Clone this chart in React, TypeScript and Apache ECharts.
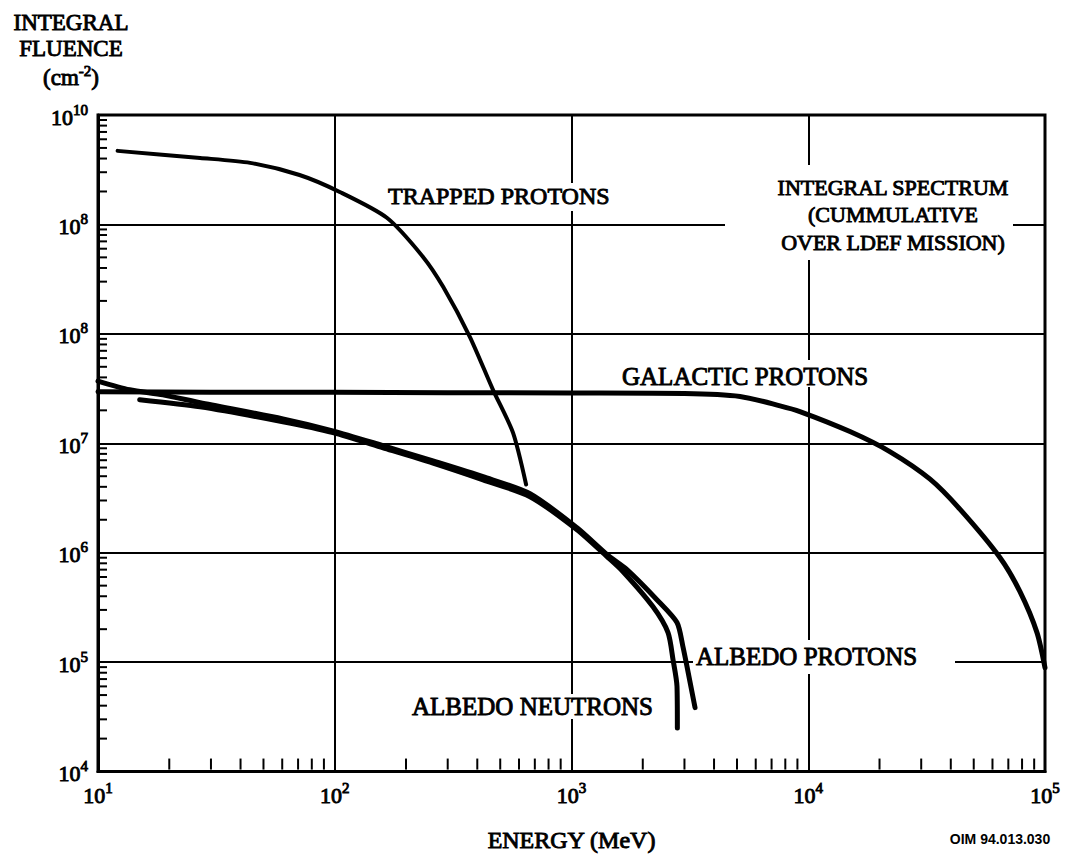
import React, { useEffect, useRef } from "react";
import * as echarts from "echarts";

const SERIF = "'Liberation Serif', 'Times New Roman', serif";

// Energy (MeV) and integral fluence (cm^-2)
const trappedEnergy = [12.1, 27, 43.9, 71, 105, 166, 236, 287, 372, 466, 566, 643];
const trappedFluence = [4.7e9, 4.05e9, 3.65e9, 2.83e9, 1.98e9, 1.15e9, 5.05e8, 2.69e8, 9.4e7, 3.08e7, 1.25e7, 4.2e6];

const galacticEnergy = [10, 30, 100, 300, 1000, 3000, 5150, 7600, 9220, 15000, 22100, 32700, 43700, 64600, 78400, 92500, 100000];
const galacticFluence = [2.95e7, 2.93e7, 2.92e7, 2.9e7, 2.88e7, 2.85e7, 2.68e7, 2.2e7, 1.95e7, 1.28e7, 8.4e6, 4.7e6, 2.5e6, 9.0e5, 4.4e5, 1.86e5, 8.9e4];

const albedoNeutronEnergy = [15, 27, 60.4, 98.3, 160, 260, 423, 668, 1055, 1413, 1652, 2210, 2557, 2685, 2790, 2800];
const albedoNeutronFluence = [2.5e7, 2.15e7, 1.57e7, 1.25e7, 9.1e6, 6.6e6, 4.64e6, 3.25e6, 1.62e6, 9.2e5, 6.7e5, 3.2e5, 1.86e5, 1.05e5, 6.0e4, 2.5e4];

const albedoProtonEnergy = [10, 13.6, 18.8, 27, 60.4, 98, 160, 260, 423, 668, 1055, 1413, 1715, 2295, 2790, 2955, 3075, 3325];
const albedoProtonFluence = [3.7e7, 3.08e7, 2.77e7, 2.35e7, 1.67e7, 1.3e7, 9.5e6, 6.9e6, 4.95e6, 3.46e6, 1.69e6, 9.6e5, 7.0e5, 3.72e5, 2.3e5, 1.39e5, 9.1e4, 3.84e4];

// Axis decades and their printed exponents
const xDecades = [1, 2, 3, 4, 5];
const xExponentLabels = ["1", "2", "3", "4", "5"];
const yDecades = [4, 5, 6, 7, 8, 9, 10];
const yExponentLabels = ["4", "5", "6", "7", "8", "8", "10"];
const minorMultipliers = [2, 3, 4, 5, 6, 7, 8, 9];

const pairs = (xs: number[], ys: number[]) => xs.map((x, i) => [x, ys[i]]);

const minorTicks = (decades: number[]) => {
  const out: number[] = [];
  for (let i = 0; i < decades.length - 1; i++) {
    const base = Math.pow(10, decades[i]);
    minorMultipliers.forEach((m) => out.push(m * base));
  }
  return out;
};

const INK = 0.9;
const ink = { textBorderColor: "#000", textBorderWidth: INK };

const rich = {
  b: { fontFamily: SERIF, fontSize: 22, color: "#000", lineHeight: 26, verticalAlign: "bottom", ...ink },
  s: { fontFamily: SERIF, fontSize: 15, color: "#000", lineHeight: 15, verticalAlign: "top", ...ink },
};

const expLabel = (decades: number[], labels: string[]) => (v: number) => {
  const e = Math.round(Math.log10(v));
  const idx = decades.indexOf(e);
  return `{b|10}{s|${idx >= 0 ? labels[idx] : e}}`;
};

const curve = (name: string, data: number[][], width: number) => ({
  name,
  type: "line",
  data,
  showSymbol: false,
  smooth: 0.25,
  clip: false,
  lineStyle: { color: "#000", width, cap: "round", join: "round" },
  z: 4,
});

const label = (text: string, x: number, y: number, size: number, align = "left") => ({
  type: "text",
  z: 6,
  style: {
    text,
    x,
    y,
    fill: "#000",
    fontFamily: SERIF,
    fontSize: size,
    textAlign: align,
    textVerticalAlign: "middle",
    stroke: "#000",
    lineWidth: INK,
  },
});

const blank = (x: number, y: number, width: number, height: number) => ({
  type: "rect",
  z: 5,
  shape: { x, y, width, height },
  style: { fill: "#fff" },
  silent: true,
});

export default function App() {
  const ref = useRef<HTMLDivElement>(null);

  useEffect(() => {
    document.body.style.margin = "0";
    const chart = echarts.init(ref.current!, undefined, { renderer: "svg" });

    chart.setOption({
      animation: false,
      backgroundColor: "#fff",
      textStyle: { fontFamily: SERIF },
      grid: {
        left: 98,
        top: 115,
        width: 947,
        height: 657,
        show: true,
        borderColor: "#000",
        borderWidth: 3,
        backgroundColor: "transparent",
      },
      xAxis: {
        type: "log",
        logBase: 10,
        min: 10,
        max: 1e5,
        splitNumber: 4,
        axisLine: { show: true, lineStyle: { color: "#000", width: 3 } },
        axisTick: { show: false },
        splitLine: { show: true, lineStyle: { color: "#000", width: 2 } },
        axisLabel: { margin: 9, fontFamily: SERIF, formatter: expLabel(xDecades, xExponentLabels), rich },
        name: "ENERGY (MeV)",
        nameLocation: "middle",
        nameGap: 56,
        nameTextStyle: { fontFamily: SERIF, fontSize: 24, color: "#000", ...ink },
      },
      yAxis: {
        type: "log",
        logBase: 10,
        min: 1e4,
        max: 1e10,
        splitNumber: 6,
        axisLine: { show: true, lineStyle: { color: "#000", width: 3 } },
        axisTick: { show: false },
        splitLine: { show: true, lineStyle: { color: "#000", width: 2 } },
        axisLabel: { margin: 10, fontFamily: SERIF, formatter: expLabel(yDecades, yExponentLabels), rich },
      },
      series: [
        curve("TRAPPED PROTONS", pairs(trappedEnergy, trappedFluence), 4),
        curve("GALACTIC PROTONS", pairs(galacticEnergy, galacticFluence), 5),
        curve("ALBEDO NEUTRONS", pairs(albedoNeutronEnergy, albedoNeutronFluence), 5),
        curve("ALBEDO PROTONS", pairs(albedoProtonEnergy, albedoProtonFluence), 5),
        {
          type: "custom",
          silent: true,
          clip: false,
          z: 3,
          data: minorTicks(xDecades).map((v) => [v, 1e4]),
          renderItem: (_p: any, api: any) => {
            const pt = api.coord([api.value(0), api.value(1)]);
            return {
              type: "line",
              shape: { x1: pt[0], y1: pt[1] - 2, x2: pt[0], y2: pt[1] - 13 },
              style: { stroke: "#000", lineWidth: 2 },
            };
          },
        },
        {
          type: "custom",
          silent: true,
          clip: false,
          z: 3,
          data: minorTicks(yDecades).map((v) => [10, v]),
          renderItem: (_p: any, api: any) => {
            const pt = api.coord([api.value(0), api.value(1)]);
            return {
              type: "line",
              shape: { x1: pt[0], y1: pt[1], x2: pt[0] + 9, y2: pt[1] },
              style: { stroke: "#000", lineWidth: 2 },
            };
          },
        },
      ],
      graphic: [
        blank(390, 183, 230, 28),
        blank(725, 165, 288, 95),
        blank(618, 360, 254, 27),
        blank(693, 640, 262, 34),
        blank(409, 694, 248, 25),
        label("TRAPPED PROTONS", 388, 196, 24),
        label("INTEGRAL SPECTRUM", 893, 187, 22, "center"),
        label("(CUMMULATIVE", 893, 214, 22, "center"),
        label("OVER LDEF MISSION)", 893, 242, 22, "center"),
        label("GALACTIC PROTONS", 622, 376, 25),
        label("ALBEDO PROTONS", 696, 656, 25),
        label("ALBEDO NEUTRONS", 412, 706, 25),
        label("INTEGRAL", 71, 22, 23, "center"),
        label("FLUENCE", 71, 48, 23, "center"),
        {
          type: "text",
          z: 6,
          style: {
            text: "{b|(cm}{s|-2}{b|)}",
            x: 71,
            y: 76,
            textAlign: "center",
            textVerticalAlign: "middle",
            rich: {
              b: { fontFamily: SERIF, fontSize: 23, fill: "#000", lineHeight: 26, verticalAlign: "bottom", stroke: "#000", lineWidth: INK },
              s: { fontFamily: SERIF, fontSize: 15, fill: "#000", lineHeight: 15, verticalAlign: "top", stroke: "#000", lineWidth: INK },
            },
          },
        },
        {
          type: "text",
          z: 6,
          style: {
            text: "OIM 94.013.030",
            x: 1000,
            y: 839,
            fill: "#000",
            fontFamily: "'Liberation Sans', Arial, sans-serif",
            fontWeight: "bold",
            fontSize: 14,
            textAlign: "center",
            textVerticalAlign: "middle",
          },
        },
      ],
    });

    return () => chart.dispose();
  }, []);

  return (
    <div
      ref={ref}
      style={{ position: "absolute", left: 0, top: 0, width: 1074, height: 857 }}
    />
  );
}
